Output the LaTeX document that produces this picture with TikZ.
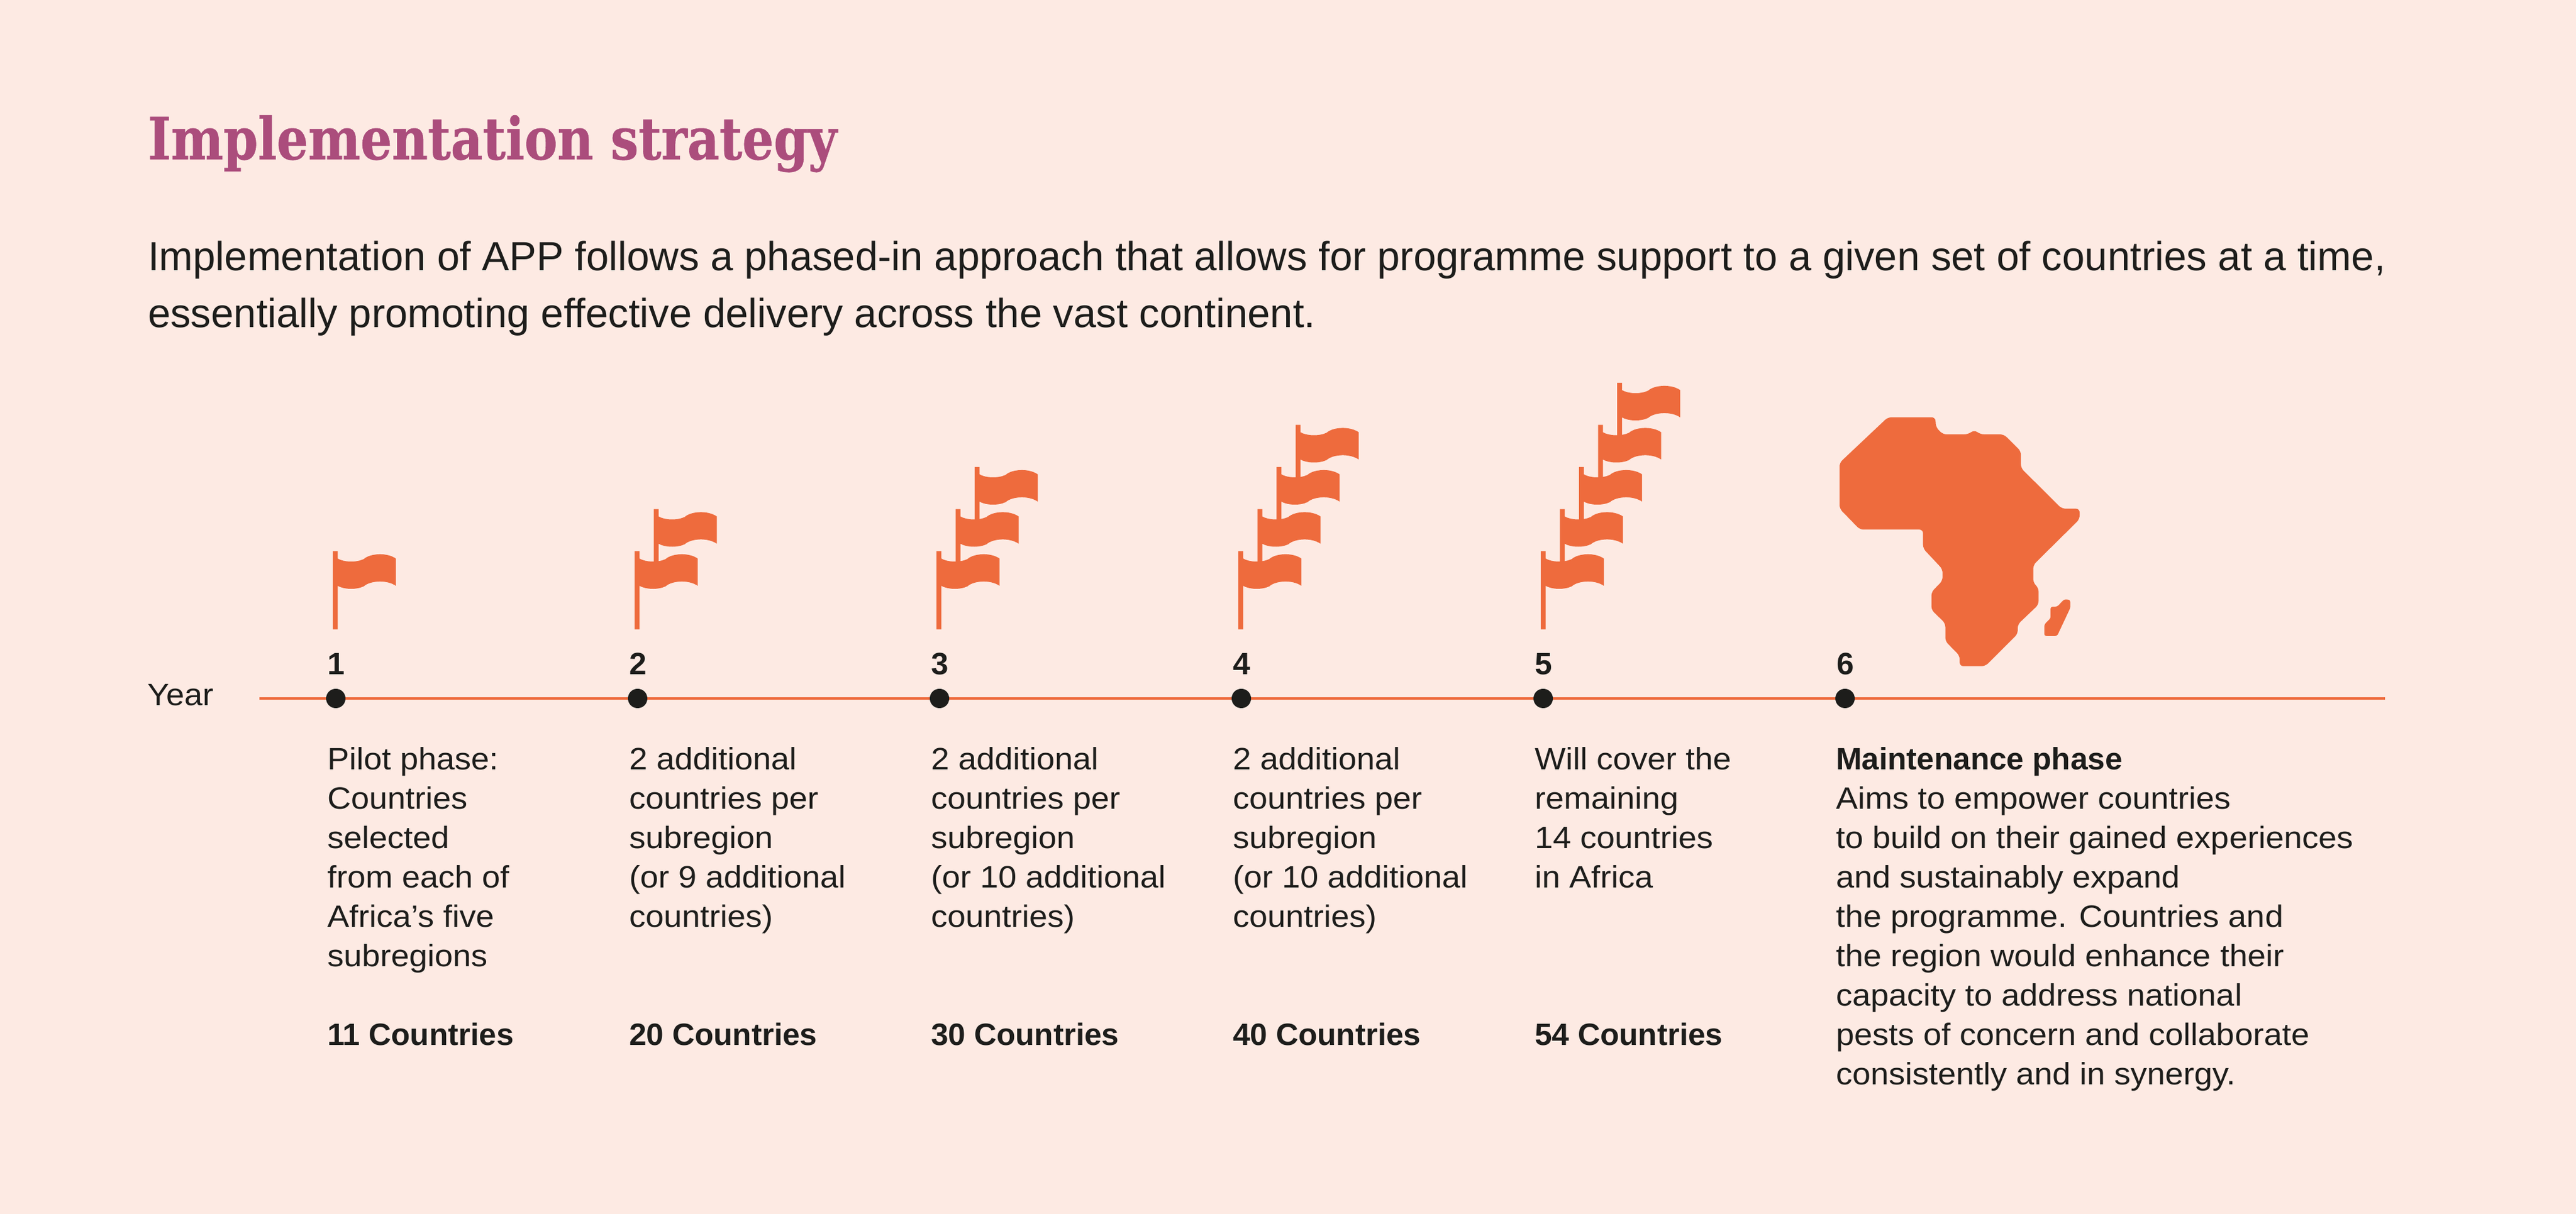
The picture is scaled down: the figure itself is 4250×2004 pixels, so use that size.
\documentclass[tikz,border=0pt]{standalone}
\usepackage{fontspec}
\setmainfont{Liberation Sans}
\newfontfamily\titlefont[FakeStretch=0.85,BoldFeatures={FakeStretch=0.85,FakeBold=0.6}]{DejaVu Serif}
\newfontfamily\columnfont[FakeStretch=1.06,BoldFeatures={FakeStretch=1.005}]{Liberation Sans}
\definecolor{pagebg}{HTML}{FDEAE3}
\definecolor{flagorange}{HTML}{EE6B3D}
\definecolor{titlepink}{HTML}{AB4D7C}
\definecolor{inkblack}{HTML}{1D1D1B}
\tikzset{
    every node/.style={inner sep=0pt,outer sep=0pt,text=inkblack},
    body text/.style={anchor=north west,align=left,font=\fontsize{5.1}{6.5}\columnfont},
    count text/.style={anchor=base west,font=\fontsize{5.1}{6.5}\columnfont\bfseries},
    year dot/.style={circle,fill=inkblack,minimum size=3.2pt},
}
\newcommand{\oneflag}[2]{%
    \begin{scope}[shift={({#1},{#2})}]
    \fill[flagorange] (0,0) -- (0,-129) -- (8,-129) -- (8,-117)
        .. controls (18,-111) and (38,-110) .. (51,-116)
        .. controls (62,-126) and (90,-127) .. (104,-117)
        -- (104,-72)
        .. controls (90,-82) and (62,-81) .. (51,-71)
        .. controls (38,-65) and (18,-66) .. (8,-72)
        -- (8,0) -- cycle;
    \end{scope}}
\begin{document}
\begin{tikzpicture}[x=0.1pt,y=-0.1pt]
	\useasboundingbox[fill=pagebg] (0,0) rectangle (4250,2004);
	\node[anchor=base west,text=titlepink,font=\fontsize{9.6}{11}\titlefont\bfseries] (title) at (244,263) {Implementation strategy};
	\node[anchor=north west,align=left,font=\fontsize{6.71}{9.4}\selectfont] (intro) at (244,398)
		{Implementation of APP follows a phased-in approach that allows for programme support to a given set of countries at a time,\\
		essentially promoting effective delivery across the vast continent.};
	\node[anchor=base west,font=\fontsize{5.1}{6.5}\columnfont] (yearlabel) at (243,1165) {Year};
	\coordinate (axisstart) at (428,1153);
	\coordinate (axisend) at (3935,1153);
	\draw[flagorange,line width=0.4pt] (axisstart) -- (axisend);
	% year dots and numbers
	\foreach \yr/\xpos in {1/554,2/1052,3/1550,4/2048,5/2546,6/3044}{
		\node[year dot] (dot\yr) at (\xpos,1153) {};
		\node[count text] (num\yr) at ({\xpos-14},1114) {\yr};
	}
	% flags
	\foreach \xpos/\nflags in {549/1,1047/2,1545/3,2043/4,2542/5}{
		\foreach \k in {1,...,\nflags}{
			\oneflag{\xpos+31.5*(\k-1)}{1039-69.5*(\k-1)}
		}
	}
	% africa
	\fill[flagorange,rounded corners=0.6pt] (3114.6,688.9) -- (3193,688.9) -- (3194,705.4) -- (3205.6,717.1)
		-- (3246.6,717.1) -- (3257.3,709.9) -- (3267.6,717.1) -- (3306,717.1) -- (3334.2,745)
		-- (3334.2,772.6) -- (3401.6,839.7) -- (3431,839.7) -- (3431,857) -- (3354.5,932.7)
		-- (3354.5,962) -- (3363.3,970.6) -- (3363.3,998) -- (3328.9,1030.8) -- (3328.9,1046.3)
		-- (3275.3,1099.7) -- (3233.2,1099.7) -- (3233.2,1082.5) -- (3209.5,1058.4) -- (3209.5,1029)
		-- (3186.5,1006.7) -- (3186.5,977.5) -- (3204.9,958.5) -- (3204.9,939.6) -- (3172.7,905.2)
		-- (3172.7,874.2) -- (3068.6,874.2) -- (3035,839.7) -- (3035,764) -- cycle;
	\fill[flagorange,rounded corners=0.3pt] (3411.2,989.5) -- (3415.7,991) -- (3415.7,1003.3) -- (3393.9,1049.8)
		-- (3372.9,1049.8) -- (3372.9,1030.8) -- (3383.2,1020.5) -- (3383.2,1001.6) -- (3393.9,1001.6) -- (3405.4,989.5) -- cycle;
	% column text
	\node[body text] (text1) at (540,1234) {Pilot phase:\\Countries\\selected\\from each of\\Africa’s five\\subregions};
	\node[body text] (text2) at (1038,1234) {2 additional\\countries per\\subregion\\(or 9 additional\\countries)};
	\node[body text] (text3) at (1536,1234) {2 additional\\countries per\\subregion\\(or 10 additional\\countries)};
	\node[body text] (text4) at (2034,1234) {2 additional\\countries per\\subregion\\(or 10 additional\\countries)};
	\node[body text] (text5) at (2532,1234) {Will cover the\\remaining\\14 countries\\in Africa};
	\node[body text] (text6) at (3029,1234) {\textbf{Maintenance phase}\\Aims to empower countries\\to build on their gained experiences\\and sustainably expand\\the programme. Countries and\\the region would enhance their\\capacity to address national\\pests of concern and collaborate\\consistently and in synergy.};
	\node[count text] (count1) at (540,1726) {11 Countries};
	\node[count text] (count2) at (1038,1726) {20 Countries};
	\node[count text] (count3) at (1536,1726) {30 Countries};
	\node[count text] (count4) at (2034,1726) {40 Countries};
	\node[count text] (count5) at (2532,1726) {54 Countries};
\end{tikzpicture}
\end{document}
